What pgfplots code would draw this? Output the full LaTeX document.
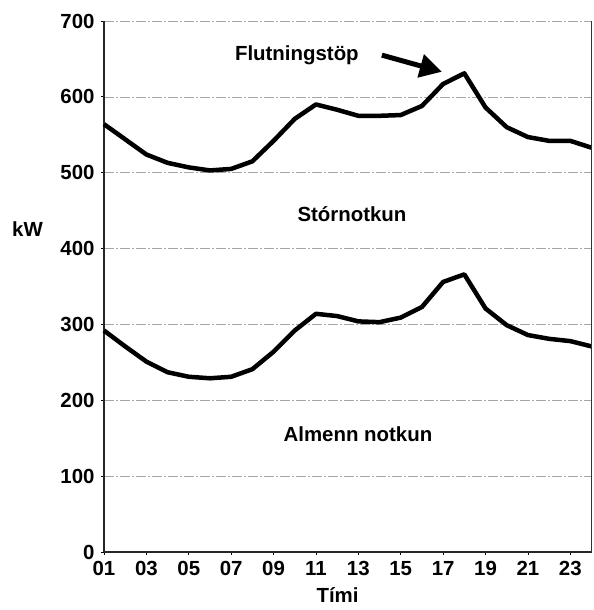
\documentclass[border=0pt]{standalone}
\usepackage{pgfplots}
\pgfplotsset{compat=1.18}
\usepackage{fontspec}
\setmainfont{Liberation Sans}
\usetikzlibrary{arrows.meta}
\newcommand{\chartfont}{\fontsize{20.5}{22}\selectfont\bfseries}
\begin{document}
\begin{tikzpicture}
\begin{axis}[
  scale only axis,
  width=487.5bp, height=531bp,
  xmin=1, xmax=24, ymin=0, ymax=700,
  xtick={1,3,5,7,9,11,13,15,17,19,21,23},
  xticklabels={01,03,05,07,09,11,13,15,17,19,21,23},
  ytick={0,100,200,300,400,500,600,700},
  axis x line*=bottom, axis y line*=left,
  axis line style={black!85, line width=1.1bp},
  tick align=outside, major tick length=3bp,
  tick style={black, line width=0.8bp},
  ymajorgrids,
  major grid style={gray!70, line width=0.7bp, dash pattern=on 10bp off 2bp on 2bp off 2bp},
  /pgf/number format/assume math mode=true,
  ticklabel style={font=\chartfont},
  xticklabel style={yshift=-3bp},
  yticklabel style={xshift=-3bp},
  xlabel={Tími},
  every axis x label/.style={at={(rel axis cs:0.479,0)}, anchor=north, yshift=-35bp, inner sep=0pt, font=\chartfont},
  ylabel={kW},
  every axis y label/.style={at={(rel axis cs:0,0.608)}, anchor=east, xshift=-61bp, inner sep=0pt, font=\chartfont},
  clip=false,
]
\addplot[black, line width=4.5bp, line join=round] coordinates {
(1,564) (2,544) (3,524) (4,513) (5,507) (6,503) (7,505) (8,515) (9,542) (10,571)
(11,590) (12,583) (13,575) (14,575) (15,576) (16,588) (17,617) (18,631) (19,586)
(20,560) (21,547) (22,542) (23,542) (24,533)};
\addplot[black, line width=4.5bp, line join=round] coordinates {
(1,292) (2,271) (3,251) (4,237) (5,231) (6,229) (7,231) (8,241) (9,264) (10,292)
(11,314) (12,311) (13,304) (14,303) (15,309) (16,323) (17,356) (18,366) (19,321)
(20,299) (21,286) (22,281) (23,278) (24,271)};
\draw[black!80, line width=0.8bp] (rel axis cs:1,0) -- (rel axis cs:1,1);
\node[font=\chartfont] at (axis cs:10.1,655) {Flutningstöp};
\node[font=\chartfont] at (axis cs:12.7,445) {Stórnotkun};
\node[font=\chartfont] at (axis cs:12.98,155) {Almenn notkun};
\draw[line width=5bp, -{Triangle[length=22bp,width=23bp]}] (axis cs:14.11,655) -- (axis cs:16.94,633);
\end{axis}
\pgfresetboundingbox
\path (current axis.south west) ++(-104bp,-58bp) coordinate (bbA);
\path (current axis.north east) ++(2.5bp,21bp) coordinate (bbB);
\path[use as bounding box] (bbA) rectangle (bbB);
\end{tikzpicture}
\end{document}
